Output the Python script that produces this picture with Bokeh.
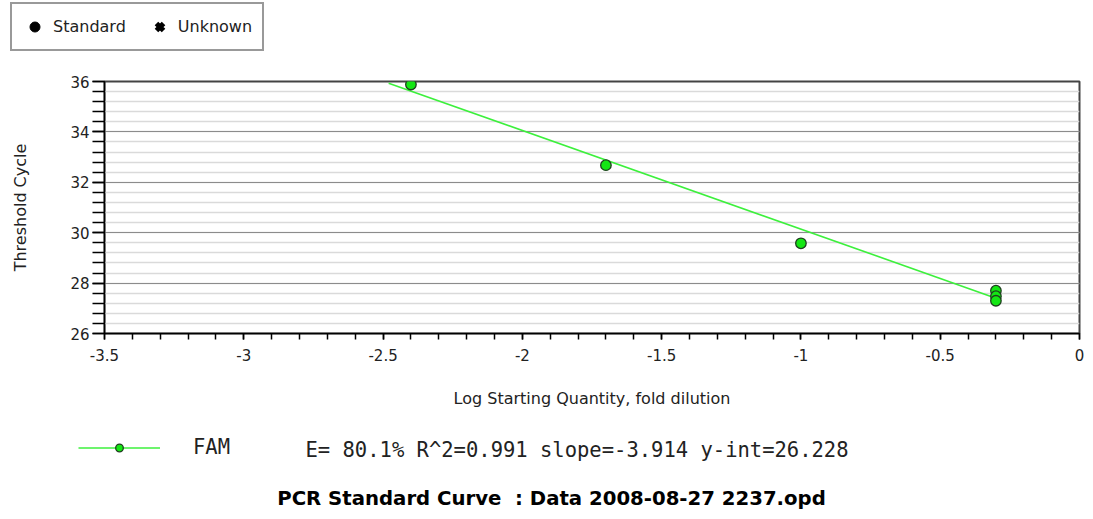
from bokeh.plotting import figure
from bokeh.layouts import column
from bokeh.models import (ColumnDataSource, Legend, LegendItem, Label, Range1d,
                          SingleIntervalTicker, CustomJSTickFormatter)
from bokeh.embed import file_html
from bokeh.resources import INLINE

# ---- data ----
log_qty = [-2.4, -1.7, -1.0, -0.3, -0.3, -0.3]
threshold_cycle = [35.88, 32.68, 29.58, 27.70, 27.48, 27.30]
fit_x = [-2.48, -0.30]
slope = -3.914
y_int = 26.228
fit_y = [slope * v + y_int for v in fit_x]
series_name = "FAM"
stats_text = "E= 80.1% R^2=0.991 slope=-3.914 y-int=26.228"
title_text = "PCR Standard Curve\u00a0 : Data 2008-08-27 2237.opd"
legend_labels = ["Standard", "Unknown"]

TXT = "#222222"
FONT = "DejaVu Sans"
W = 1093
LINE_COLOR = "#3cf03c"
PT_FILL = "#14e614"
PT_LINE = "#1e3f1e"
OFF = [-1000]   # swatch renderers sit outside the visible area
LABEL_DX = -104  # screen-unit labels in this layout are measured from x=104


def blank(h):
    f = figure(frame_width=W, frame_height=h,
               x_range=Range1d(0, W), y_range=Range1d(0, h),
               output_backend="svg", toolbar_location=None,
               x_axis_type=None, y_axis_type=None,
               min_border_left=0, min_border_right=0,
               min_border_top=0, min_border_bottom=0)
    f.outline_line_color = None
    f.xgrid.grid_line_color = None
    f.ygrid.grid_line_color = None
    f.background_fill_color = "white"
    f.border_fill_color = "white"
    return f


# ---------- top: marker legend ----------
TOP_H = 60
top = blank(TOP_H)
std_r = top.scatter(x=OFF, y=OFF, marker="circle", size=9, fill_color="black",
                    line_color="black")
unk_r = top.scatter(x=OFF, y=OFF, marker="x", size=11, line_color="black",
                    line_width=5)
top_legend = Legend(items=[LegendItem(label=legend_labels[0], renderers=[std_r]),
                           LegendItem(label=legend_labels[1], renderers=[unk_r])],
                    location=(10, TOP_H - 51), orientation="horizontal",
                    padding=10, margin=0, spacing=21, glyph_width=25,
                    glyph_height=25, label_standoff=6,
                    label_text_font=FONT, label_text_font_size="16px",
                    label_text_color=TXT, label_text_baseline="middle",
                    border_line_color="#333333", border_line_width=2,
                    background_fill_color="white", background_fill_alpha=1)
top.add_layout(top_legend, "center")

# ---------- middle: the chart ----------
MID_H = 373
p = figure(width=W, height=MID_H, x_range=(-3.5, 0), y_range=(26, 36),
           output_backend="svg", toolbar_location=None,
           min_border_left=104, min_border_right=14,
           min_border_top=81 - TOP_H, min_border_bottom=MID_H - (333 - TOP_H))
p.background_fill_color = "white"
p.border_fill_color = "white"
p.outline_line_color = "#444444"
p.outline_line_width = 2

p.xaxis.ticker = SingleIntervalTicker(interval=0.5, num_minor_ticks=5)
p.yaxis.ticker = SingleIntervalTicker(interval=2, num_minor_ticks=5)
p.xaxis.formatter = CustomJSTickFormatter(code="return String(Number(tick.toFixed(2)));")
for ax in (p.xaxis, p.yaxis):
    ax.axis_line_color = "black"
    ax.axis_line_width = 1.5
    ax.major_tick_line_color = "black"
    ax.minor_tick_line_color = "black"
    ax.major_tick_line_width = 1.5
    ax.minor_tick_line_width = 1.5
    ax.major_tick_in = 0
    ax.minor_tick_in = 0
    ax.major_label_text_font = FONT
    ax.major_label_text_font_size = "15px"
    ax.major_label_text_color = TXT
    ax.axis_label_text_font = FONT
    ax.axis_label_text_font_size = "16px"
    ax.axis_label_text_font_style = "normal"
    ax.axis_label_text_color = TXT
p.xaxis.major_tick_out = 6
p.xaxis.minor_tick_out = 6
p.yaxis.major_tick_out = 12
p.yaxis.minor_tick_out = 12
p.xaxis.major_label_standoff = 9
p.yaxis.major_label_standoff = 3
p.xaxis.axis_label = "Log Starting Quantity, fold dilution"
p.yaxis.axis_label = "Threshold Cycle"
p.xaxis.axis_label_standoff = 25
p.yaxis.axis_label_standoff = 37

p.xgrid.grid_line_color = None
p.ygrid.grid_line_color = "#8c8c8c"
p.ygrid.grid_line_width = 1.2
p.ygrid.minor_grid_line_color = "#dadada"
p.ygrid.minor_grid_line_width = 1.5

fit_src = ColumnDataSource(dict(x=fit_x, y=fit_y))
pts_src = ColumnDataSource(dict(x=log_qty, y=threshold_cycle))
p.line("x", "y", source=fit_src, line_color=LINE_COLOR, line_width=1.6)
p.scatter("x", "y", source=pts_src, marker="circle", size=10.5,
          fill_color=PT_FILL, line_color=PT_LINE, line_width=1.3)

# ---------- bottom: series legend, statistics, title ----------
BOT_H = 519 - TOP_H - MID_H
bot = blank(BOT_H)
leg_line = bot.line(x=OFF * 2, y=OFF * 2, line_color=LINE_COLOR, line_width=1.6)
leg_pt = bot.scatter(x=OFF, y=OFF, marker="circle", size=10, fill_color=PT_FILL,
                     line_color=PT_LINE, line_width=1.3)
fam_legend = Legend(items=[LegendItem(label=series_name, renderers=[leg_line, leg_pt])],
                    location=(78, 519 - 459), orientation="horizontal",
                    padding=0, margin=0, glyph_width=82, glyph_height=19,
                    label_standoff=33, label_text_font="DejaVu Sans Mono",
                    label_text_font_size="20.5px", label_text_color=TXT,
                    label_text_baseline="middle",
                    border_line_color=None, background_fill_alpha=0)
bot.add_layout(fam_legend, "center")
bot.add_layout(Label(x=305 + LABEL_DX, y=519 - 449, x_units="screen", y_units="screen",
                     text=stats_text,
                     text_font="DejaVu Sans Mono", text_font_size="20.5px",
                     text_color=TXT, text_baseline="middle", text_align="left"))
bot.add_layout(Label(x=551 + LABEL_DX, y=519 - 498, x_units="screen", y_units="screen",
                     text=title_text, text_font=FONT,
                     text_font_style="bold", text_font_size="19.7px",
                     text_color="black", text_baseline="middle",
                     text_align="center"))

layout = column(top, p, bot, spacing=0)
open("out.html", "w").write(file_html(layout, INLINE))
